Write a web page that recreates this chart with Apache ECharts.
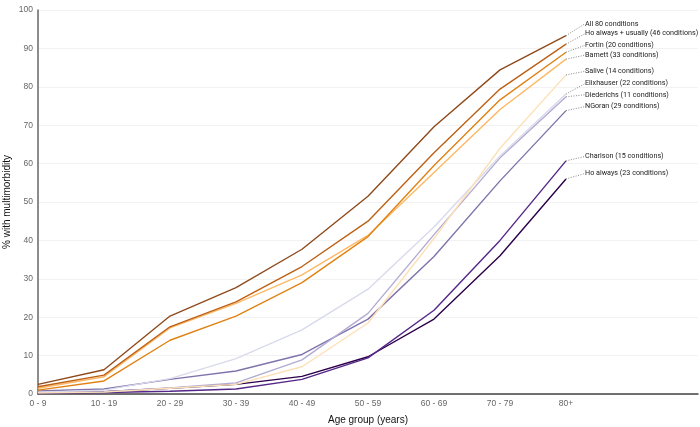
<!DOCTYPE html>
<html>
<head>
<meta charset="utf-8">
<script src="https://cdn.jsdelivr.net/npm/echarts@6/dist/echarts.min.js"></script>
<style>html,body{margin:0;padding:0;background:#fff;}#c{width:700px;height:427px;}</style>
</head>
<body>
<div id="c"></div>
<script>
var categories = ['0 - 9','10 - 19','20 - 29','30 - 39','40 - 49','50 - 59','60 - 69','70 - 79','80+','',''];
var yTicks = [0,10,20,30,40,50,60,70,80,90,100];

var seriesNames = [
  'All 80 conditions',
  'Ho always + usually (46 conditions)',
  'Fortin (20 conditions)',
  'Barnett (33 conditions)',
  'Salive (14 conditions)',
  'Elixhauser (22 conditions)',
  'Diederichs (11 conditions)',
  'NGoran (29 conditions)',
  'Charlson (15 conditions)',
  'Ho always (23 conditions)'
];
var all80      = [2.5, 6.3, 20.3, 27.7, 37.7, 51.5, 69.6, 84.4, 93.3];
var hoUsually  = [1.9, 4.9, 17.5, 24.0, 33.2, 45.0, 62.8, 79.4, 91.1];
var fortin     = [1.0, 3.4, 14.0, 20.3, 29.0, 41.0, 59.5, 76.6, 89.0];
var barnett    = [1.5, 4.5, 17.2, 23.6, 31.0, 41.3, 57.7, 74.1, 87.2];
var salive     = [0.3, 0.5, 1.5, 2.5, 7.1, 18.5, 40.5, 64.0, 83.1];
var elixhauser = [0.5, 1.0, 4.0, 9.2, 16.7, 27.3, 43.5, 62.0, 78.1];
var diederichs = [0.3, 0.6, 1.6, 2.9, 8.9, 21.0, 41.5, 61.5, 77.4];
var ngoran     = [0.8, 1.3, 3.8, 6.0, 10.3, 19.5, 35.8, 55.5, 73.8];
var charlson   = [0.2, 0.4, 0.7, 1.3, 3.8, 9.4, 21.8, 40.0, 60.7];
var hoAlways   = [0.3, 0.6, 1.5, 2.5, 4.6, 9.7, 19.5, 36.0, 56.0];

var seriesData = [all80, hoUsually, fortin, barnett, salive, elixhauser, diederichs, ngoran, charlson, hoAlways];
var colors = ['#8f4a1c','#bd6014','#e08214','#fdb863','#fee0b6','#d8daeb','#b2abd2','#8073ac','#542788','#2d004b'];
var labelDy = [-12, -10.5, -7, -4, -3.5, -10.5, -2, -4, -4.5, -5.5];

var chart = echarts.init(document.getElementById('c'), null, {renderer:'canvas'});
var series = seriesData.map(function(arr, si){
  return {
    name: seriesNames[si],
    type: 'line',
    data: arr.map(function(v, i){
      var item = {value: v};
      if (i === arr.length - 1) {
        item.label = {show: true};
      }
      return item;
    }),
    symbol: 'circle',
    symbolSize: 0,
    showSymbol: true,
    silent: true,
    z: 10 - si,
    lineStyle: {color: colors[si], width: 1.4},
    itemStyle: {color: colors[si]},
    label: {
      show: false,
      position: 'right',
      distance: 0,
      formatter: function(){ return seriesNames[si]; },
      fontFamily: 'Roboto, sans-serif',
      fontSize: 7.2,
      color: '#222'
    },
    labelLine: {
      show: true,
      lineStyle: {color: '#888', width: 1, type: [1, 1.5]}
    },
    labelLayout: function(p){
      return {dx: 19, dy: labelDy[si]};
    }
  };
});

chart.setOption({
  animation: false,
  backgroundColor: '#fff',
  grid: {left: 38, right: 2, top: 10, bottom: 33, containLabel: false, outerBoundsMode: 'none'},
  xAxis: {
    type: 'category',
    data: categories,
    boundaryGap: false,
    name: 'Age group (years)',
    nameLocation: 'middle',
    nameGap: 21,
    nameMoveOverlap: false,
    nameTextStyle: {fontFamily: 'Liberation Sans, Arial, sans-serif', fontSize: 10, color: '#111'},
    axisLine: {lineStyle: {color: '#444', width: 1.5}},
    axisTick: {show: false},
    axisLabel: {fontFamily: 'Liberation Sans, Arial, sans-serif', fontSize: 8.5, color: '#666', margin: 5, interval: 0},
    splitLine: {show: false}
  },
  yAxis: {
    type: 'value',
    min: yTicks[0],
    max: yTicks[yTicks.length - 1],
    interval: 10,
    name: '% with multimorbidity',
    nameLocation: 'middle',
    nameGap: 26,
    nameMoveOverlap: false,
    nameRotate: 90,
    nameTextStyle: {fontFamily: 'Liberation Sans, Arial, sans-serif', fontSize: 10, color: '#111'},
    axisLine: {show: true, lineStyle: {color: '#666', width: 1.5}},
    axisTick: {show: false},
    axisLabel: {fontFamily: 'Liberation Sans, Arial, sans-serif', fontSize: 8.5, color: '#666', margin: 5},
    splitLine: {show: true, lineStyle: {color: '#f2f2f2', width: 1}}
  },
  series: series
});
</script>
</body>
</html>
